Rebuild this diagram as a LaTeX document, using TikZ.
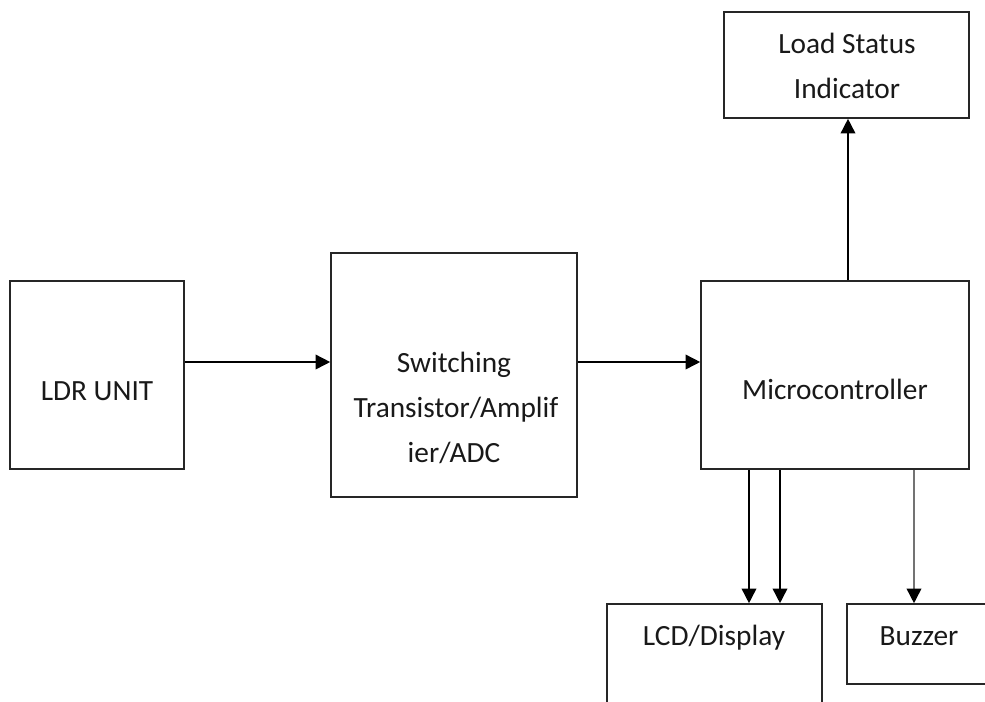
\documentclass[tikz,border=0pt]{standalone}
\usepackage{fontspec}
\setmainfont{Carlito}
\usetikzlibrary{arrows.meta}
\begin{document}
\begin{tikzpicture}[x=0.75pt,y=-0.75pt,
  box/.style={draw=black!85, line width=1.2pt, rectangle, inner sep=0pt},
  lbl/.style={anchor=base, inner sep=0pt, font=\fontsize{22}{34}\selectfont, text=black!90},
  arr/.style={draw=black, line width=1.2pt, -{Triangle[length=11pt,width=11pt,color=black]}},
  garr/.style={arr, draw=black!55}]
\useasboundingbox (0,0) rectangle (985,701);
\clip (0,0) rectangle (985,701);
\node[box, minimum width=130.5pt, minimum height=141pt] (ldr) at (97,375) {};
\node[box, minimum width=184.5pt, minimum height=183pt] (sw) at (454,375) {};
\node[box, minimum width=201pt, minimum height=141pt] (mc) at (835,375) {};
\node[box, minimum width=183.75pt, minimum height=79.5pt] (load) at (846.5,65) {};
\node[box, minimum width=161.25pt, minimum height=99pt] (lcd) at (714.5,670) {};
\node[box, minimum width=127.5pt, minimum height=60pt] (buz) at (932,644) {};
\node[lbl] (tldr) at (97,400) {LDR UNIT};
\node[lbl] (tsw1) at (454,372) {Switching};
\node[lbl] (tsw2) at (456,417) {Transistor/Amplif};
\node[lbl] (tsw3) at (454,462) {ier/ADC};
\node[lbl] (tmc) at (835,399) {Microcontroller};
\node[lbl] (tload1) at (847,53) {Load Status};
\node[lbl] (tload2) at (847,98) {Indicator};
\node[lbl] (tlcd) at (714,645) {LCD/Display};
\node[lbl] (tbuz) at (919,645) {Buzzer};
\coordinate (h) at (0,362);
\draw[arr] (ldr.east |- h) -- (sw.west |- h);
\draw[arr] (sw.east |- h) -- (mc.west |- h);
\coordinate (vu) at (848,0);
\draw[arr] (mc.north -| vu) -- (load.south -| vu);
\coordinate (v1) at (749,0);
\coordinate (v2) at (780,0);
\coordinate (v3) at (914,0);
\draw[arr] (mc.south -| v1) -- (lcd.north -| v1);
\draw[arr] (mc.south -| v2) -- (lcd.north -| v2);
\draw[garr] (mc.south -| v3) -- (buz.north -| v3);
\end{tikzpicture}
\end{document}
